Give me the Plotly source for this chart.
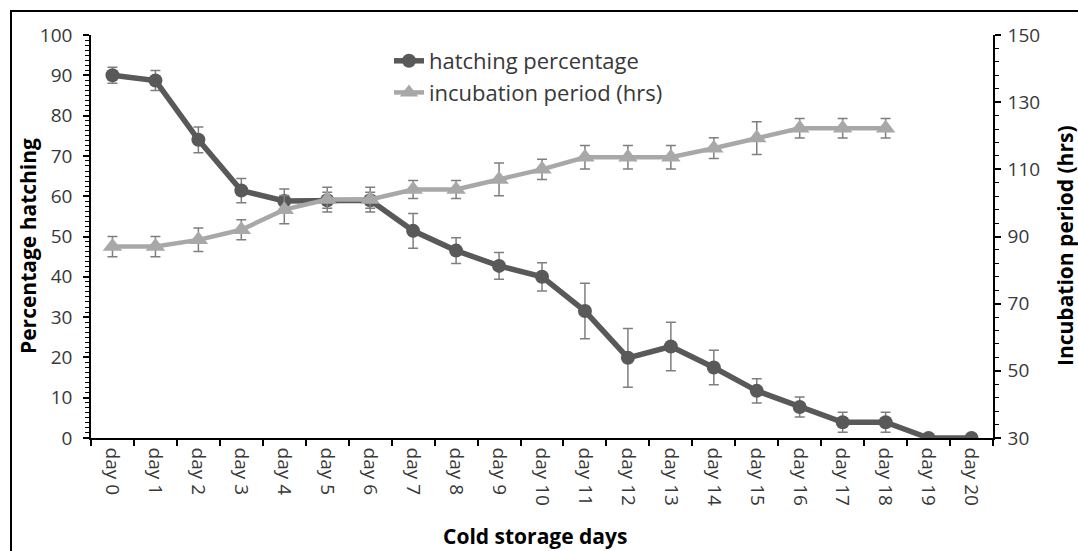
import plotly.graph_objects as go

days = [f"day {i}" for i in range(21)]
hatching = [90, 88.7, 74, 61.4, 58.8, 59, 59, 51.4, 46.5, 42.7, 40, 31.5, 19.9, 22.7, 17.5, 11.7, 7.7, 3.9, 3.9, 0, 0]
hatching_err = [2, 2.5, 3.2, 3, 3, 2, 2, 4.3, 3.2, 3.3, 3.5, 6.9, 7.3, 6, 4.3, 3, 2.5, 2.5, 2.5, 0, 0]
incubation = [87, 87, 89, 92, 98, 101, 101, 104, 104, 107, 110, 113.6, 113.6, 113.6, 116.3, 119.3, 122.2, 122.2, 122.2, None, None]
incubation_err = [3, 3, 3.5, 3, 4.2, 3.7, 3.7, 2.7, 2.7, 4.9, 3, 3.5, 3.5, 3.5, 3.1, 4.9, 2.9, 2.9, 2.9, 0, 0]

FONT = "Open Sans"
TXT = "#383838"
W, H = 1078, 551
L, R, T, B = 91, 85, 35, 113
pw, ph = W - L - R, H - T - B

def px2x(p):
    return (p - L) / pw

def px2y(p):
    return (H - B - p) / ph

fig = go.Figure()
fig.add_trace(go.Scatter(
    x=days, y=hatching, name="hatching percentage", mode="lines+markers",
    line=dict(color="#595959", width=5.5),
    marker=dict(symbol="circle", size=14, color="#595959"),
    error_y=dict(type="data", array=hatching_err, visible=True, color="#7f7f7f", thickness=1.5, width=5),
    yaxis="y",
))
fig.add_trace(go.Scatter(
    x=days, y=incubation, name="incubation period (hrs)", mode="lines+markers",
    line=dict(color="#a8a8a8", width=4.5),
    marker=dict(symbol="triangle-up", size=17, color="#a8a8a8"),
    error_y=dict(type="data", array=incubation_err, visible=True, color="#7f7f7f", thickness=1.5, width=5),
    yaxis="y2", connectgaps=False,
))

axis_common = dict(showgrid=False, zeroline=False, showline=True, linecolor="black", linewidth=1.5,
                   ticks="outside", tickcolor="black", tickwidth=1.5,
                   tickfont=dict(family=FONT, size=19, color=TXT))

fig.update_layout(
    width=W, height=H,
    margin=dict(l=L, r=R, t=T, b=B, pad=0),
    paper_bgcolor="white", plot_bgcolor="white",
    showlegend=True,
    legend=dict(x=px2x(389), y=px2y(40), xanchor="left", yanchor="top",
                font=dict(family=FONT, size=22, color=TXT), bgcolor="rgba(0,0,0,0)",
                itemwidth=30, tracegroupgap=0),
    xaxis=dict(**axis_common, type="category", range=[-0.5, 20.5], tickson="boundaries",
               ticklen=6, tickangle=90, ticklabelstandoff=4),
    yaxis=dict(**axis_common, range=[0, 100], dtick=10, tick0=0, ticklen=6, ticklabelstandoff=7,
               minor=dict(dtick=1.25, ticklen=4, ticks="outside", tickcolor="black", tickwidth=1.2)),
    yaxis2=dict(**axis_common, range=[30, 150], dtick=20, tick0=30, ticklen=6, overlaying="y", side="right",
                ticklabelstandoff=3,
                minor=dict(dtick=4, tick0=30, ticklen=4, ticks="outside", tickcolor="black", tickwidth=1.2)),
    annotations=[
        dict(text="<b>Percentage hatching</b>", xref="paper", yref="paper", x=px2x(28), y=px2y(246),
             xanchor="center", yanchor="middle",
             textangle=-90, showarrow=False, font=dict(family=FONT, size=21, color="black")),
        dict(text="<b>Incubation period (hrs)</b>", xref="paper", yref="paper", x=px2x(1065), y=px2y(246),
             xanchor="center", yanchor="middle",
             textangle=-90, showarrow=False, font=dict(family=FONT, size=21, color="black")),
        dict(text="<b>Cold storage days</b>", xref="paper", yref="paper", x=px2x(535), y=px2y(536),
             xanchor="center", yanchor="middle",
             showarrow=False, font=dict(family=FONT, size=21, color="black")),
    ],
    shapes=[dict(type="rect", xref="paper", yref="paper", x0=px2x(11), x1=px2x(1090), y0=px2y(11), y1=px2y(565),
                 line=dict(color="black", width=2), fillcolor="rgba(0,0,0,0)", layer="below")],
)

fig.write_html("out.html")
